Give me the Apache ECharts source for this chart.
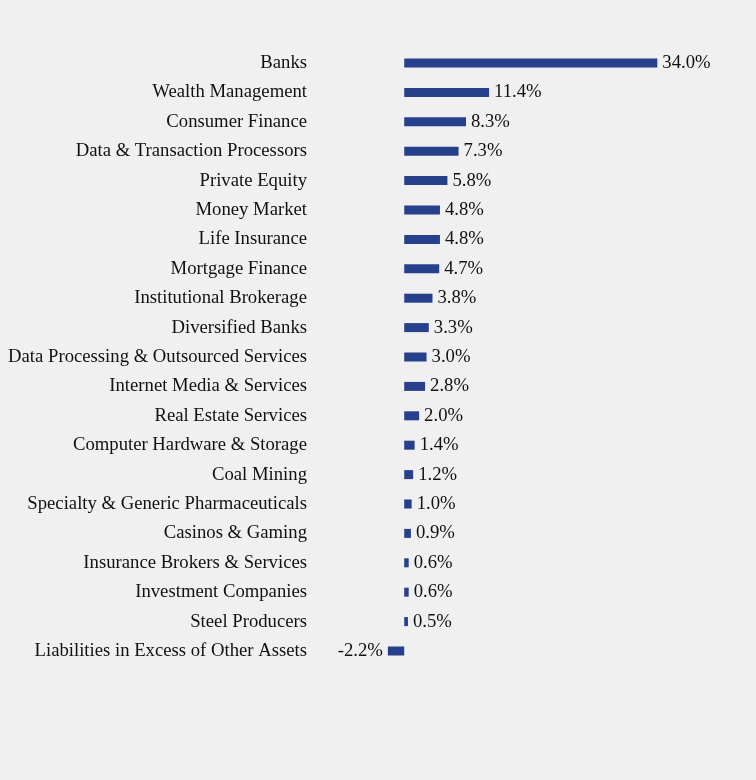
<!DOCTYPE html>
<html><head><meta charset="utf-8">
<script src="https://cdn.jsdelivr.net/npm/echarts@6/dist/echarts.min.js"></script>
<style>html,body{margin:0;padding:0;background:#f0f0f0;}#c{width:756px;height:780px;}</style>
</head><body><div id="c"></div>
<script>
const categories = ["Banks","Wealth Management","Consumer Finance","Data & Transaction Processors","Private Equity","Money Market","Life Insurance","Mortgage Finance","Institutional Brokerage","Diversified Banks","Data Processing & Outsourced Services","Internet Media & Services","Real Estate Services","Computer Hardware & Storage","Coal Mining","Specialty & Generic Pharmaceuticals","Casinos & Gaming","Insurance Brokers & Services","Investment Companies","Steel Producers","Liabilities in Excess of Other Assets"];
const values = [34.0,11.4,8.3,7.3,5.8,4.8,4.8,4.7,3.8,3.3,3.0,2.8,2.0,1.4,1.2,1.0,0.9,0.6,0.6,0.5,-2.2];
const font = "'Liberation Serif','Times New Roman',serif";
const chart = echarts.init(document.getElementById('c'), null, {renderer:'canvas'});
chart.setOption({
  backgroundColor:'#f0f0f0',
  animation:false,
  grid:{left:367, width:335, top:48.3, height:617.4},
  xAxis:{type:'value', min:-5, max:40, show:false},
  yAxis:{type:'category', data:categories, inverse:true,
    axisLine:{show:false}, axisTick:{show:false}, splitLine:{show:false},
    axisLabel:{margin:60, fontFamily:font, fontSize:18.7, color:'#111', padding:[3,0,0,0]}},
  series:[{type:'bar', data:values.map(v=>({value:v, label:{position: v<0?'left':'right'}})),
    barWidth:9, itemStyle:{color:'#27408b'},
    label:{show:true, distance:5, fontFamily:font, fontSize:18.7, color:'#111', padding:[3,0,0,0],
      formatter:p=>p.value.toFixed(1)+'%'}}]
});
</script></body></html>
